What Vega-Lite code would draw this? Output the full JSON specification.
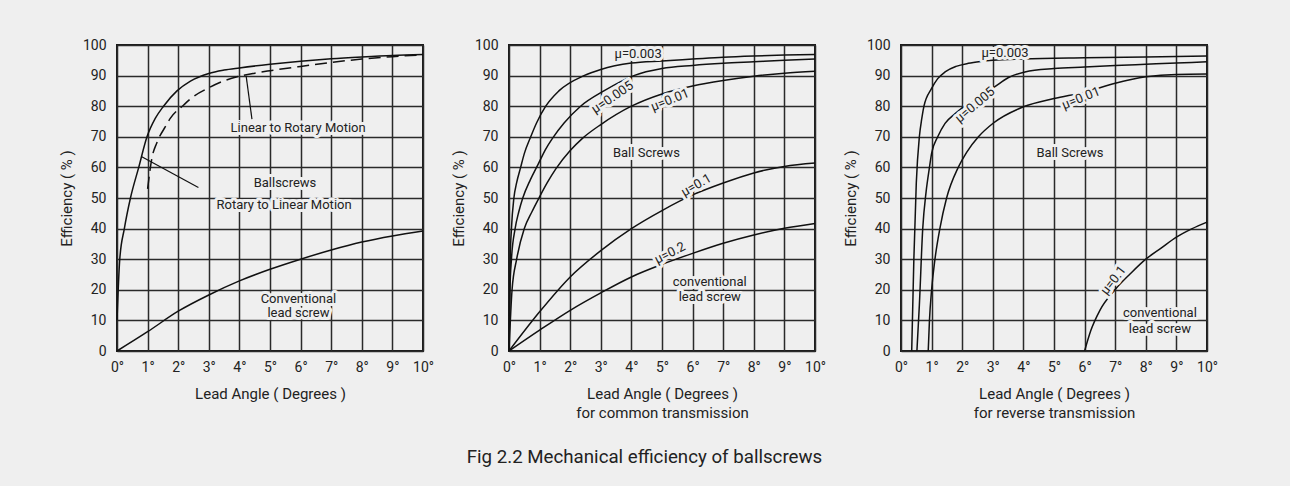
{
  "$schema": "https://vega.github.io/schema/vega-lite/v6.json",
  "background": "#efefef",
  "padding": {"left": 58, "top": 37, "right": 76, "bottom": 21},
  "bounds": "flush",
  "spacing": 86,
  "title": {"text": "Fig 2.2 Mechanical efficiency of ballscrews", "orient": "bottom", "anchor": "middle", "dx": 6, "fontSize": 18.7, "font": "Roboto", "fontWeight": "normal", "color": "#222", "offset": 27},
  "datasets": {
    "p1rot": [{"x":0,"y":10},{"x":0.09,"y":30},{"x":0.24,"y":40},{"x":0.44,"y":50},{"x":0.71,"y":60},{"x":0.98,"y":70},{"x":1.25,"y":76},{"x":1.52,"y":80},{"x":1.96,"y":85},{"x":2.4,"y":88.2},{"x":3,"y":90.7},{"x":3.5,"y":91.8},{"x":4,"y":92.5},{"x":5,"y":93.7},{"x":6,"y":94.7},{"x":7,"y":95.5},{"x":8,"y":96.1},{"x":9,"y":96.6},{"x":10,"y":96.9}],
    "p1lin": [{"x":1.0,"y":53},{"x":1.14,"y":63},{"x":1.3,"y":68},{"x":1.58,"y":73.3},{"x":1.74,"y":76},{"x":2.18,"y":80.4},{"x":2.4,"y":82.4},{"x":3,"y":86},{"x":3.5,"y":88.3},{"x":4,"y":89.8},{"x":4.5,"y":90.8},{"x":5,"y":91.6},{"x":6,"y":93},{"x":7,"y":94.3},{"x":8,"y":95.4},{"x":9,"y":96.2},{"x":10,"y":96.8}],
    "p1conv": [{"x":0,"y":0},{"x":1,"y":6.3},{"x":2,"y":13},{"x":3,"y":18.3},{"x":4,"y":22.9},{"x":5,"y":26.7},{"x":6,"y":30},{"x":7,"y":33},{"x":8,"y":35.6},{"x":9,"y":37.6},{"x":10,"y":39.2}],
    "p1rules": [{"x":4.41,"y":75.8,"x2":4.22,"y2":89.9},{"x":2.66,"y":53.4,"x2":0.81,"y2":63.5}],
    "p1text": [{"x":5.92,"y":72.9,"t":"Linear to Rotary Motion"},{"x":5.49,"y":55,"t":"Ballscrews"},{"x":5.46,"y":47.7,"t":"Rotary to Linear Motion"},{"x":5.93,"y":17.1,"t":"Conventional\nlead screw"}],
    "p2": [
      {"s":"0.003","x":0,"y":0},{"s":"0.003","x":0.04,"y":30},{"s":"0.003","x":0.08,"y":40},{"s":"0.003","x":0.16,"y":50},{"s":"0.003","x":0.25,"y":55},{"s":"0.003","x":0.38,"y":60},{"s":"0.003","x":0.5,"y":64.5},{"s":"0.003","x":0.71,"y":70},{"s":"0.003","x":0.9,"y":74.5},{"s":"0.003","x":1.2,"y":80},{"s":"0.003","x":1.63,"y":85},{"s":"0.003","x":2.45,"y":90},{"s":"0.003","x":3,"y":92},{"s":"0.003","x":4,"y":94.1},{"s":"0.003","x":5,"y":94.8},{"s":"0.003","x":6,"y":95.4},{"s":"0.003","x":7,"y":96},{"s":"0.003","x":8,"y":96.4},{"s":"0.003","x":9,"y":96.7},{"s":"0.003","x":10,"y":96.9},
      {"s":"0.005","x":0,"y":0},{"s":"0.005","x":0.03,"y":20},{"s":"0.005","x":0.08,"y":30},{"s":"0.005","x":0.2,"y":40},{"s":"0.005","x":0.32,"y":45.5},{"s":"0.005","x":0.45,"y":50},{"s":"0.005","x":0.7,"y":56},{"s":"0.005","x":0.95,"y":61},{"s":"0.005","x":1.2,"y":66},{"s":"0.005","x":1.42,"y":69.5},{"s":"0.005","x":1.8,"y":74.5},{"s":"0.005","x":2.34,"y":80},{"s":"0.005","x":3.1,"y":85},{"s":"0.005","x":4.08,"y":90},{"s":"0.005","x":5,"y":92.3},{"s":"0.005","x":6,"y":93.3},{"s":"0.005","x":7,"y":94},{"s":"0.005","x":8,"y":94.5},{"s":"0.005","x":9,"y":95},{"s":"0.005","x":10,"y":95.4},
      {"s":"0.01","x":0,"y":0},{"s":"0.01","x":0.1,"y":20},{"s":"0.01","x":0.25,"y":30},{"s":"0.01","x":0.5,"y":40},{"s":"0.01","x":0.75,"y":45.5},{"s":"0.01","x":0.98,"y":50},{"s":"0.01","x":1.25,"y":55},{"s":"0.01","x":1.53,"y":59.5},{"s":"0.01","x":2,"y":65.5},{"s":"0.01","x":2.4,"y":69.5},{"s":"0.01","x":3,"y":74},{"s":"0.01","x":4,"y":80},{"s":"0.01","x":5,"y":84},{"s":"0.01","x":6,"y":86.6},{"s":"0.01","x":7,"y":88.4},{"s":"0.01","x":8,"y":89.8},{"s":"0.01","x":9,"y":90.8},{"s":"0.01","x":10,"y":91.4},
      {"s":"0.1","x":0,"y":0},{"s":"0.1","x":1,"y":12.8},{"s":"0.1","x":2,"y":24.2},{"s":"0.1","x":3,"y":32.8},{"s":"0.1","x":4,"y":40},{"s":"0.1","x":5,"y":45.9},{"s":"0.1","x":6,"y":51},{"s":"0.1","x":7,"y":54.9},{"s":"0.1","x":8,"y":58.2},{"s":"0.1","x":9,"y":60.3},{"s":"0.1","x":10,"y":61.4},
      {"s":"0.2","x":0,"y":0},{"s":"0.2","x":1,"y":6.8},{"s":"0.2","x":2,"y":13.3},{"s":"0.2","x":3,"y":19},{"s":"0.2","x":4,"y":24.2},{"s":"0.2","x":5,"y":28.3},{"s":"0.2","x":6,"y":31.9},{"s":"0.2","x":7,"y":35.2},{"s":"0.2","x":8,"y":37.9},{"s":"0.2","x":9,"y":40.1},{"s":"0.2","x":10,"y":41.7}
    ],
    "p2text": [{"x":4.22,"y":97.1,"t":"μ=0.003"},{"x":3.38,"y":82.9,"t":"μ=0.005"},{"x":5.26,"y":82,"t":"μ=0.01"},{"x":4.49,"y":64.8,"t":"Ball Screws"},{"x":6.12,"y":54.2,"t":"μ=0.1"},{"x":5.26,"y":32,"t":"μ=0.2"},{"x":6.56,"y":22.6,"t":"conventional\nlead screw"}],
    "p3": [
      {"s":"0.003","x":0.35,"y":0},{"s":"0.003","x":0.42,"y":30},{"s":"0.003","x":0.5,"y":55},{"s":"0.003","x":0.6,"y":70},{"s":"0.003","x":0.68,"y":76},{"s":"0.003","x":0.75,"y":80},{"s":"0.003","x":1.0,"y":85.8},{"s":"0.003","x":1.2,"y":89},{"s":"0.003","x":1.44,"y":91.2},{"s":"0.003","x":1.8,"y":93},{"s":"0.003","x":2.2,"y":94},{"s":"0.003","x":2.6,"y":94.6},{"s":"0.003","x":3,"y":95},{"s":"0.003","x":4,"y":95.4},{"s":"0.003","x":6,"y":95.8},{"s":"0.003","x":8,"y":96.1},{"s":"0.003","x":10,"y":96.4},
      {"s":"0.005","x":0.52,"y":0},{"s":"0.005","x":0.6,"y":15},{"s":"0.005","x":0.71,"y":40},{"s":"0.005","x":0.82,"y":52},{"s":"0.005","x":0.93,"y":60},{"s":"0.005","x":1.0,"y":64.6},{"s":"0.005","x":1.2,"y":70},{"s":"0.005","x":1.44,"y":74.4},{"s":"0.005","x":1.76,"y":77.5},{"s":"0.005","x":2.0,"y":79.5},{"s":"0.005","x":2.42,"y":82},{"s":"0.005","x":3.07,"y":86.4},{"s":"0.005","x":3.5,"y":89.3},{"s":"0.005","x":4.05,"y":91.2},{"s":"0.005","x":5,"y":92.3},{"s":"0.005","x":6,"y":92.8},{"s":"0.005","x":7,"y":93.3},{"s":"0.005","x":8,"y":93.7},{"s":"0.005","x":9,"y":94.1},{"s":"0.005","x":10,"y":94.5},
      {"s":"0.01","x":0.89,"y":0},{"s":"0.01","x":0.93,"y":10},{"s":"0.01","x":1.0,"y":20},{"s":"0.01","x":1.11,"y":30},{"s":"0.01","x":1.27,"y":40},{"s":"0.01","x":1.49,"y":50},{"s":"0.01","x":1.87,"y":60},{"s":"0.01","x":2.15,"y":65},{"s":"0.01","x":2.53,"y":70},{"s":"0.01","x":3.02,"y":74.5},{"s":"0.01","x":4,"y":79.8},{"s":"0.01","x":5,"y":82.5},{"s":"0.01","x":6,"y":84.6},{"s":"0.01","x":7,"y":87.5},{"s":"0.01","x":8,"y":89.6},{"s":"0.01","x":9,"y":90.4},{"s":"0.01","x":10,"y":90.5},
      {"s":"0.1","x":6,"y":0},{"s":"0.1","x":6.2,"y":6.6},{"s":"0.1","x":6.5,"y":13.3},{"s":"0.1","x":7,"y":20.1},{"s":"0.1","x":7.5,"y":25.3},{"s":"0.1","x":8,"y":30},{"s":"0.1","x":8.5,"y":33.6},{"s":"0.1","x":9,"y":37.2},{"s":"0.1","x":9.5,"y":39.9},{"s":"0.1","x":10,"y":42.1}
    ],
    "p3text": [{"x":3.4,"y":97.3,"t":"μ=0.003"},{"x":2.42,"y":80.4,"t":"μ=0.005"},{"x":5.88,"y":82.6,"t":"μ=0.01"},{"x":5.52,"y":64.6,"t":"Ball Screws"},{"x":6.94,"y":23.1,"t":"μ=0.1"},{"x":8.46,"y":12.4,"t":"conventional\nlead screw"}]
  },
  "hconcat": [
    {
      "width": 306, "height": 306,
      "encoding": {
        "x": {"field": "x", "type": "quantitative", "scale": {"domain": [0, 10], "nice": false}, "axis": {"values": [0,1,2,3,4,5,6,7,8,9,10], "labelExpr": "datum.value + '°'", "title": "Lead Angle ( Degrees )"}},
        "y": {"field": "y", "type": "quantitative", "scale": {"domain": [0, 100], "nice": false}, "axis": {"values": [0,10,20,30,40,50,60,70,80,90,100], "title": "Efficiency ( % )"}}
      },
      "layer": [
        {"data": {"name": "p1conv"}, "mark": {"type": "line", "interpolate": "monotone", "color": "#111", "strokeWidth": 1.5}},
        {"data": {"name": "p1rot"}, "mark": {"type": "line", "interpolate": "monotone", "color": "#111", "strokeWidth": 1.5}},
        {"data": {"name": "p1lin"}, "mark": {"type": "line", "interpolate": "monotone", "color": "#111", "strokeWidth": 1.5, "strokeDash": [12, 6]}},
        {"data": {"name": "p1rules"}, "mark": {"type": "rule", "color": "#111", "strokeWidth": 1.2}, "encoding": {"x2": {"field": "x2"}, "y2": {"field": "y2"}}},
        {"data": {"name": "p1text"}, "mark": {"type": "text", "font": "Roboto", "fontSize": 13, "lineBreak": "\n", "lineHeight": 14, "color": "#efefef", "stroke": "#efefef", "strokeWidth": 6, "strokeJoin": "round"}, "encoding": {"text": {"field": "t"}}},
        {"data": {"name": "p1text"}, "mark": {"type": "text", "font": "Roboto", "fontSize": 13, "lineBreak": "\n", "lineHeight": 14, "color": "#222"}, "encoding": {"text": {"field": "t"}}}
      ]
    },
    {
      "width": 306, "height": 306,
      "encoding": {
        "x": {"field": "x", "type": "quantitative", "scale": {"domain": [0, 10], "nice": false}, "axis": {"values": [0,1,2,3,4,5,6,7,8,9,10], "labelExpr": "datum.value + '°'", "title": ["Lead Angle ( Degrees )", "for common transmission"]}},
        "y": {"field": "y", "type": "quantitative", "scale": {"domain": [0, 100], "nice": false}, "axis": {"values": [0,10,20,30,40,50,60,70,80,90,100], "title": "Efficiency ( % )"}}
      },
      "layer": [
        {"data": {"name": "p2"}, "mark": {"type": "line", "interpolate": "monotone", "color": "#111", "strokeWidth": 1.5}, "encoding": {"detail": {"field": "s"}}},
        {"data": {"name": "p2text"}, "transform": [{"filter": {"field": "t", "oneOf": ["μ=0.003", "Ball Screws", "conventional\nlead screw"]}}], "mark": {"type": "text", "font": "Roboto", "fontSize": 13, "lineBreak": "\n", "lineHeight": 15.5, "color": "#efefef", "stroke": "#efefef", "strokeWidth": 6, "strokeJoin": "round"}, "encoding": {"text": {"field": "t"}}},
        {"data": {"name": "p2text"}, "transform": [{"filter": {"field": "t", "oneOf": ["μ=0.003", "Ball Screws", "conventional\nlead screw"]}}], "mark": {"type": "text", "font": "Roboto", "fontSize": 13, "lineBreak": "\n", "lineHeight": 15.5, "color": "#222"}, "encoding": {"text": {"field": "t"}}},
        {"data": {"name": "p2text"}, "transform": [{"filter": {"field": "t", "equal": "μ=0.005"}}], "mark": {"type": "text", "font": "Roboto", "fontSize": 13, "angle": -34, "color": "#efefef", "stroke": "#efefef", "strokeWidth": 6, "strokeJoin": "round"}, "encoding": {"text": {"field": "t"}}},
        {"data": {"name": "p2text"}, "transform": [{"filter": {"field": "t", "equal": "μ=0.005"}}], "mark": {"type": "text", "font": "Roboto", "fontSize": 13, "angle": -34, "color": "#222"}, "encoding": {"text": {"field": "t"}}},
        {"data": {"name": "p2text"}, "transform": [{"filter": {"field": "t", "equal": "μ=0.01"}}], "mark": {"type": "text", "font": "Roboto", "fontSize": 13, "angle": -22, "color": "#efefef", "stroke": "#efefef", "strokeWidth": 6, "strokeJoin": "round"}, "encoding": {"text": {"field": "t"}}},
        {"data": {"name": "p2text"}, "transform": [{"filter": {"field": "t", "equal": "μ=0.01"}}], "mark": {"type": "text", "font": "Roboto", "fontSize": 13, "angle": -22, "color": "#222"}, "encoding": {"text": {"field": "t"}}},
        {"data": {"name": "p2text"}, "transform": [{"filter": {"field": "t", "equal": "μ=0.1"}}], "mark": {"type": "text", "font": "Roboto", "fontSize": 13, "angle": -30, "color": "#efefef", "stroke": "#efefef", "strokeWidth": 6, "strokeJoin": "round"}, "encoding": {"text": {"field": "t"}}},
        {"data": {"name": "p2text"}, "transform": [{"filter": {"field": "t", "equal": "μ=0.1"}}], "mark": {"type": "text", "font": "Roboto", "fontSize": 13, "angle": -30, "color": "#222"}, "encoding": {"text": {"field": "t"}}},
        {"data": {"name": "p2text"}, "transform": [{"filter": {"field": "t", "equal": "μ=0.2"}}], "mark": {"type": "text", "font": "Roboto", "fontSize": 13, "angle": -27, "color": "#efefef", "stroke": "#efefef", "strokeWidth": 6, "strokeJoin": "round"}, "encoding": {"text": {"field": "t"}}},
        {"data": {"name": "p2text"}, "transform": [{"filter": {"field": "t", "equal": "μ=0.2"}}], "mark": {"type": "text", "font": "Roboto", "fontSize": 13, "angle": -27, "color": "#222"}, "encoding": {"text": {"field": "t"}}}
      ]
    },
    {
      "width": 306, "height": 306,
      "encoding": {
        "x": {"field": "x", "type": "quantitative", "scale": {"domain": [0, 10], "nice": false}, "axis": {"values": [0,1,2,3,4,5,6,7,8,9,10], "labelExpr": "datum.value + '°'", "title": ["Lead Angle ( Degrees )", "for reverse transmission"]}},
        "y": {"field": "y", "type": "quantitative", "scale": {"domain": [0, 100], "nice": false}, "axis": {"values": [0,10,20,30,40,50,60,70,80,90,100], "title": "Efficiency ( % )"}}
      },
      "layer": [
        {"data": {"name": "p3"}, "mark": {"type": "line", "interpolate": "monotone", "color": "#111", "strokeWidth": 1.5}, "encoding": {"detail": {"field": "s"}}},
        {"data": {"name": "p3text"}, "transform": [{"filter": {"field": "t", "oneOf": ["μ=0.003", "Ball Screws", "conventional\nlead screw"]}}], "mark": {"type": "text", "font": "Roboto", "fontSize": 13, "lineBreak": "\n", "lineHeight": 15.5, "color": "#efefef", "stroke": "#efefef", "strokeWidth": 6, "strokeJoin": "round"}, "encoding": {"text": {"field": "t"}}},
        {"data": {"name": "p3text"}, "transform": [{"filter": {"field": "t", "oneOf": ["μ=0.003", "Ball Screws", "conventional\nlead screw"]}}], "mark": {"type": "text", "font": "Roboto", "fontSize": 13, "lineBreak": "\n", "lineHeight": 15.5, "color": "#222"}, "encoding": {"text": {"field": "t"}}},
        {"data": {"name": "p3text"}, "transform": [{"filter": {"field": "t", "equal": "μ=0.005"}}], "mark": {"type": "text", "font": "Roboto", "fontSize": 13, "angle": -40, "color": "#efefef", "stroke": "#efefef", "strokeWidth": 6, "strokeJoin": "round"}, "encoding": {"text": {"field": "t"}}},
        {"data": {"name": "p3text"}, "transform": [{"filter": {"field": "t", "equal": "μ=0.005"}}], "mark": {"type": "text", "font": "Roboto", "fontSize": 13, "angle": -40, "color": "#222"}, "encoding": {"text": {"field": "t"}}},
        {"data": {"name": "p3text"}, "transform": [{"filter": {"field": "t", "equal": "μ=0.01"}}], "mark": {"type": "text", "font": "Roboto", "fontSize": 13, "angle": -22, "color": "#efefef", "stroke": "#efefef", "strokeWidth": 6, "strokeJoin": "round"}, "encoding": {"text": {"field": "t"}}},
        {"data": {"name": "p3text"}, "transform": [{"filter": {"field": "t", "equal": "μ=0.01"}}], "mark": {"type": "text", "font": "Roboto", "fontSize": 13, "angle": -22, "color": "#222"}, "encoding": {"text": {"field": "t"}}},
        {"data": {"name": "p3text"}, "transform": [{"filter": {"field": "t", "equal": "μ=0.1"}}], "mark": {"type": "text", "font": "Roboto", "fontSize": 13, "angle": -52, "color": "#efefef", "stroke": "#efefef", "strokeWidth": 6, "strokeJoin": "round"}, "encoding": {"text": {"field": "t"}}},
        {"data": {"name": "p3text"}, "transform": [{"filter": {"field": "t", "equal": "μ=0.1"}}], "mark": {"type": "text", "font": "Roboto", "fontSize": 13, "angle": -52, "color": "#222"}, "encoding": {"text": {"field": "t"}}}
      ]
    }
  ],
  "config": {
    "font": "Roboto",
    "view": {"stroke": "#1a1a1a", "strokeWidth": 2, "fill": null},
    "axis": {"grid": true, "gridColor": "#2a2a2a", "gridWidth": 1.5, "gridOpacity": 1, "domain": false, "ticks": false, "labelFont": "Roboto", "labelFontSize": 14, "labelColor": "#222", "labelFlush": false, "labelOverlap": false, "titleFont": "Roboto", "titleFontSize": 15, "titleFontWeight": "normal", "titleColor": "#222"},
    "axisX": {"labelPadding": 9, "titlePadding": 12, "titleLineHeight": 19},
    "axisY": {"labelPadding": 11, "titlePadding": 8}
  }
}
